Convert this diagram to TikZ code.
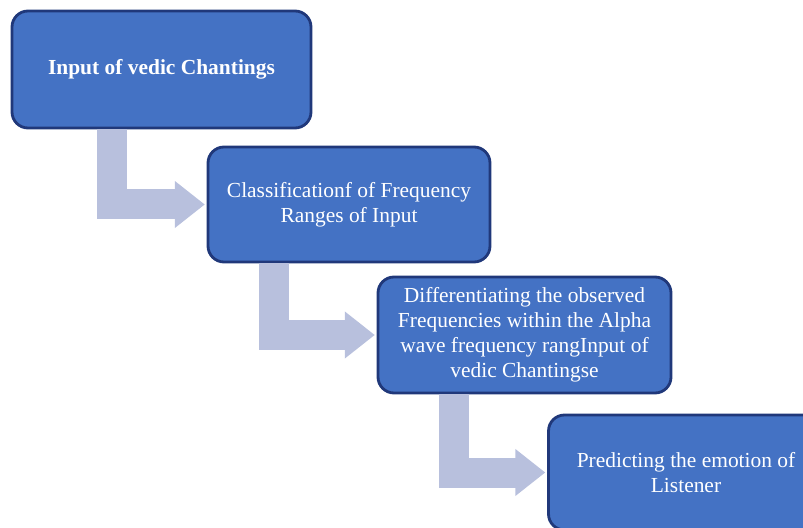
\documentclass[tikz,border=0pt]{standalone}
\usepackage{fontspec}
\setmainfont{Liberation Serif}
\usetikzlibrary{arrows.meta,positioning}

\definecolor{boxblue}{RGB}{68,114,196}
\definecolor{boxedge}{RGB}{32,56,122}
\definecolor{arrowgrey}{RGB}{184,192,221}

\begin{document}
\begin{tikzpicture}[
  stage/.style={draw=boxedge, line width=1.6pt, rounded corners=0.32cm,
              fill=boxblue, text=white, align=center,
              font=\fontsize{12.2}{14.2}\selectfont},
  bentarr/.style={draw=arrowgrey, line width=0.6cm, line join=miter,
              -{Triangle[length=0.6cm, width=0.9cm]}, shorten >=1pt},
]
\useasboundingbox (0,0) rectangle (16.06,10.54);
\clip (0,0) rectangle (16.06,10.54);

\node[stage, minimum width=5.98cm, minimum height=2.34cm] (input) at (3.23,9.15)
  {\textbf{Input of vedic Chantings}};
\node[stage, minimum width=5.64cm, minimum height=2.30cm] (classify) at (6.98,6.45)
  {Classificationf of Frequency\\Ranges of Input};
\node[stage, minimum width=5.86cm, minimum height=2.32cm] (alpha) at (10.49,3.84)
  {Differentiating the observed\\Frequencies within the Alpha\\wave frequency rangInput of\\vedic Chantingse};
\node[stage, minimum width=5.50cm, minimum height=2.30cm] (predict) at (13.72,1.09)
  {Predicting the emotion of\\Listener};

% bent arrows between the stages
\coordinate (a1) at ([xshift=2.02cm]input.south west);
\coordinate (a2) at ([xshift=1.34cm]classify.south west);
\coordinate (a3) at ([xshift=1.54cm]alpha.south west);

\draw[bentarr] (a1) |- (classify.west);
\draw[bentarr] (a2) |- (alpha.west);
\draw[bentarr] (a3) |- (predict.west);

\end{tikzpicture}
\end{document}
